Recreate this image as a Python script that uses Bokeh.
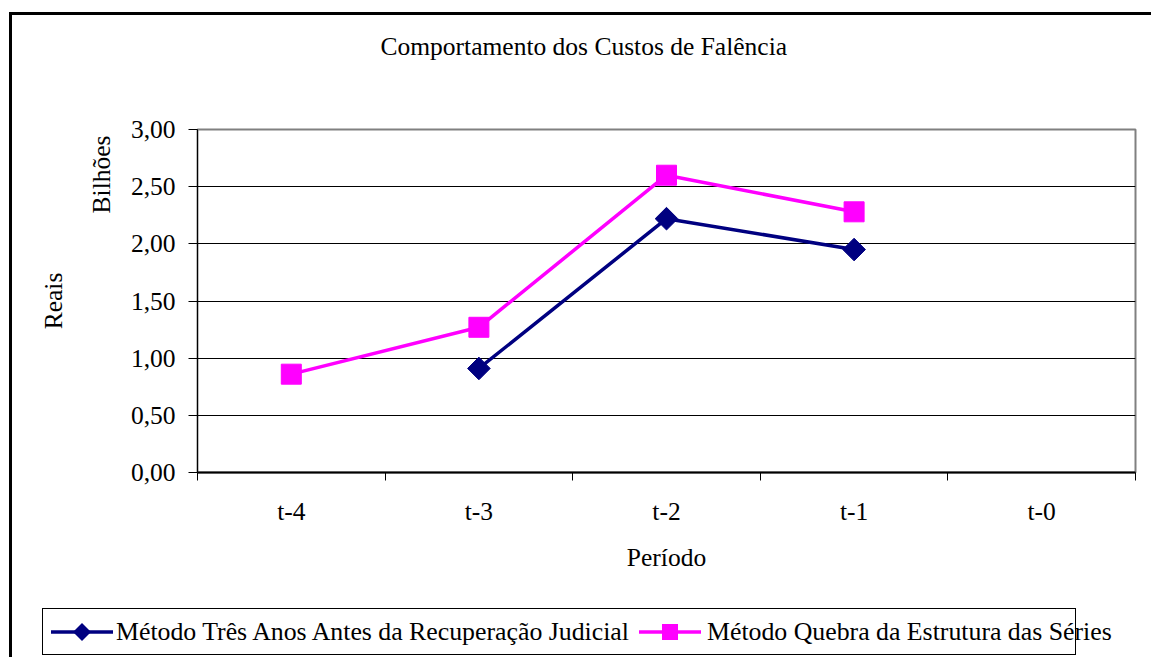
import math
from bokeh.plotting import figure
from bokeh.layouts import column
from bokeh.models import (Range1d, FixedTicker, Title, InlineStyleSheet, Div)
from bokeh.embed import file_html
from bokeh.resources import INLINE

categories = ["t-4", "t-3", "t-2", "t-1", "t-0"]
serie_tres_anos = [float("nan"), 0.91, 2.22, 1.95, float("nan")]
serie_quebra = [0.86, 1.27, 2.60, 2.28, float("nan")]
y_ticks = [0.0, 0.5, 1.0, 1.5, 2.0, 2.5, 3.0]
y_tick_labels = ["0,00", "0,50", "1,00", "1,50", "2,00", "2,50", "3,00"]
name1 = "Método Três Anos Antes da Recuperação Judicial"
name2 = "Método Quebra da Estrutura das Séries"
title_text = "Comportamento dos Custos de Falência"

FONT = "Liberation Serif"
FS = "25.5px"
navy = "#000080"
mag = "#FF00FF"

xs = [i + 0.5 for i in range(len(categories))]

top_css = InlineStyleSheet(css="""
:host {
  background-image: linear-gradient(#000, #000), linear-gradient(#000, #000);
  background-size: 3px 100%, 100% 3px;
  background-position: 9px 12px, 9px 12px;
  background-repeat: no-repeat;
}
""")
bottom_css = InlineStyleSheet(css="""
:host {
  background-image: linear-gradient(#000, #000);
  background-size: 3px 100%;
  background-position: 9px 0px;
  background-repeat: no-repeat;
}
""")

# ---------------- main chart ----------------
p = figure(width=1151, height=590, output_backend="svg", toolbar_location=None,
           x_range=Range1d(0, len(categories)), y_range=Range1d(0, 3),
           min_border_left=197, min_border_right=16, min_border_top=129, min_border_bottom=118,
           stylesheets=[top_css])

p.background_fill_color = "white"
p.border_fill_color = None
p.outline_line_color = "#808080"
p.outline_line_width = 2

p.xgrid.visible = False
p.ygrid.ticker = FixedTicker(ticks=y_ticks)
p.ygrid.grid_line_color = "#000000"
p.ygrid.grid_line_width = 1

p.xaxis.ticker = FixedTicker(ticks=xs, minor_ticks=list(range(len(categories) + 1)))
p.xaxis.major_label_overrides = {x: c for x, c in zip(xs, categories)}
p.xaxis.major_tick_out = 0
p.xaxis.major_tick_in = 0
p.xaxis.minor_tick_out = 8
p.xaxis.minor_tick_in = 0
p.xaxis.minor_tick_line_color = "black"
p.xaxis.axis_line_color = "black"
p.xaxis.axis_line_width = 2
p.xaxis.major_label_standoff = 16
p.xaxis.major_label_text_font = FONT
p.xaxis.major_label_text_font_size = FS
p.xaxis.major_label_text_color = "black"
p.xaxis.axis_label = "Período"
p.xaxis.axis_label_standoff = 14
p.xaxis.axis_label_text_font = FONT
p.xaxis.axis_label_text_font_size = FS
p.xaxis.axis_label_text_font_style = "normal"
p.xaxis.axis_label_text_color = "black"

p.yaxis.ticker = FixedTicker(ticks=y_ticks, minor_ticks=[])
p.yaxis.major_label_overrides = {t: l for t, l in zip(y_ticks, y_tick_labels)}
p.yaxis.major_tick_out = 9
p.yaxis.major_tick_in = 0
p.yaxis.major_tick_line_color = "black"
p.yaxis.minor_tick_out = 0
p.yaxis.minor_tick_in = 0
p.yaxis.axis_line_color = "black"
p.yaxis.axis_line_width = 1
p.yaxis.major_label_standoff = 13
p.yaxis.major_label_text_font = FONT
p.yaxis.major_label_text_font_size = FS
p.yaxis.major_label_text_color = "black"

p.line(xs, serie_tres_anos, line_color=navy, line_width=3.5)
p.scatter(xs, serie_tres_anos, marker="square", size=16, angle=math.pi / 4,
          fill_color=navy, line_color=navy)
p.line(xs, serie_quebra, line_color=mag, line_width=3.5)
p.scatter(xs, serie_quebra, marker="square", size=20, fill_color=mag, line_color=mag)

# spacer between the plot area and the title, then the title itself
p.add_layout(Title(text=" ", align="left", standoff=38,
                   text_font=FONT, text_font_size=FS, text_font_style="normal",
                   text_color="black"), "above")
p.add_layout(Title(text=title_text, align="left", offset=183, standoff=0,
                   text_font=FONT, text_font_size=FS, text_font_style="normal",
                   text_color="black"), "above")
p.add_layout(Title(text="Bilhões", align="right", offset=6, standoff=24,
                   text_font=FONT, text_font_size=FS, text_font_style="normal",
                   text_color="black"), "left")
p.add_layout(Title(text="Reais", align="center", standoff=10,
                   text_font=FONT, text_font_size=FS, text_font_style="normal",
                   text_color="black"), "left")

# ---------------- legend strip ----------------
def swatch(color, kind):
    line = f'<line x1="0" y1="12" x2="62" y2="12" stroke="{color}" stroke-width="3.5"/>'
    if kind == "diamond":
        mark = f'<polygon points="31,3 40,12 31,21 22,12" fill="{color}"/>'
    else:
        mark = f'<rect x="23" y="4" width="16" height="16" fill="{color}"/>'
    return f'<svg width="62" height="24" style="flex:none;display:block">{line}{mark}</svg>'

legend_html = (
    '<div style="position:relative;width:1151px;height:67px;">'
    '<div style="position:absolute;left:42px;top:18px;width:1034px;height:47px;'
    'box-sizing:border-box;border:1px solid #000;background:#fff;display:flex;'
    'align-items:center;padding-left:8px;white-space:nowrap;'
    f"font-family:'{FONT}';font-size:25.8px;color:#000;line-height:1;\">"
    f'{swatch(navy, "diamond")}'
    f'<span style="margin-left:3px">{name1}</span>'
    f'<span style="margin-left:10px;display:flex">{swatch(mag, "square")}</span>'
    f'<span style="margin-left:6px">{name2}</span>'
    '</div></div>'
)
legend_div = Div(text=legend_html, width=1151, height=67, margin=0, stylesheets=[bottom_css])

layout = column(p, legend_div, spacing=0)
open("out.html", "w").write(file_html(layout, INLINE))
